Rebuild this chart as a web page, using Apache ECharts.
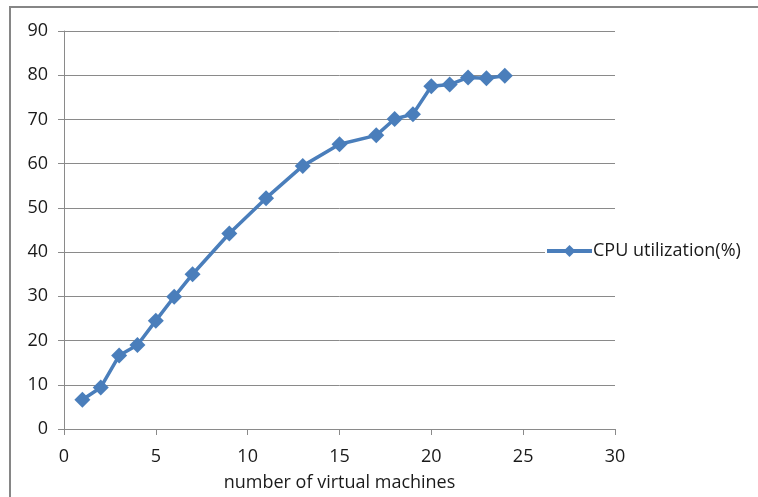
<!DOCTYPE html>
<html>
<head>
<meta charset="utf-8">
<style>
  html, body { margin: 0; padding: 0; background: #ffffff; }
  #chart { width: 758px; height: 497px; }
</style>
<script src="https://cdn.jsdelivr.net/npm/echarts@6/dist/echarts.min.js"></script>
</head>
<body>
<div id="chart"></div>
<script>
// Number of virtual machines (x) and measured CPU utilization (y)
const vmCounts = [1, 2, 3, 4, 5, 6, 7, 9, 11, 13, 15, 17, 18, 19, 20, 21, 22, 23, 24];
const cpuUtil = [6.6, 9.4, 16.6, 19.0, 24.5, 29.9, 35.0, 44.2, 52.2, 59.5, 64.4, 66.4, 70.1, 71.2, 77.5, 77.9, 79.5, 79.3, 79.9];
const seriesName = 'CPU utilization(%)';
const xAxisTitle = 'number of virtual machines';

const FONT = '"Open Sans", "Noto Sans", sans-serif';
const FONT_SIZE = 18;
const TEXT = '#1a1a1a';
const AXIS_GRAY = '#8a8a8a';
const BLUE = '#4a7ebb';

const chart = echarts.init(document.getElementById('chart'), null, { renderer: 'canvas' });

chart.setOption({
  animation: false,
  backgroundColor: '#ffffff',
  textStyle: { fontFamily: FONT, color: TEXT },
  grid: { left: 64, right: 143, top: 31, bottom: 67, containLabel: false },
  xAxis: {
    type: 'value',
    min: 0, max: 30, interval: 5,
    name: xAxisTitle,
    nameLocation: 'middle',
    nameGap: 45,
    nameTextStyle: { fontFamily: FONT, fontSize: FONT_SIZE, color: TEXT },
    axisLine: { show: true, onZero: false, lineStyle: { color: AXIS_GRAY, width: 1 } },
    axisTick: { show: true, inside: false, length: 6, lineStyle: { color: AXIS_GRAY } },
    axisLabel: { margin: 19, fontFamily: FONT, fontSize: FONT_SIZE, color: TEXT },
    splitLine: { show: false }
  },
  yAxis: {
    type: 'value',
    min: 0, max: 90, interval: 10,
    axisLine: { show: true, lineStyle: { color: AXIS_GRAY, width: 1 } },
    axisTick: { show: true, inside: false, length: 6, lineStyle: { color: AXIS_GRAY } },
    axisLabel: { margin: 16, fontFamily: FONT, fontSize: FONT_SIZE, color: TEXT },
    splitLine: { show: true, lineStyle: { color: AXIS_GRAY, width: 1 } }
  },
  legend: {
    show: true,
    orient: 'vertical',
    left: 545,
    top: 242,
    padding: 0,
    itemWidth: 45,
    itemHeight: 15,
    itemGap: 0,
    backgroundColor: '#ffffff',
    lineStyle: { width: 4 },
    textStyle: { fontFamily: FONT, fontSize: FONT_SIZE, color: TEXT, padding: [0, 0, 0, -4] },
    data: [{ name: seriesName }]
  },
  graphic: [
    { type: 'line', silent: true, z: 100,
      shape: { x1: 10, y1: 7, x2: 10, y2: 497 },
      style: { stroke: '#868686', lineWidth: 2 } },
    { type: 'line', silent: true, z: 100,
      shape: { x1: 9, y1: 7, x2: 758, y2: 7 },
      style: { stroke: '#868686', lineWidth: 2 } }
  ],
  series: [{
    name: seriesName,
    type: 'line',
    data: vmCounts.map((x, i) => [x, cpuUtil[i]]),
    symbol: 'diamond',
    symbolSize: 16,
    showAllSymbol: true,
    lineStyle: { color: BLUE, width: 3.5 },
    itemStyle: { color: BLUE, borderColor: BLUE, borderWidth: 0 }
  }]
});
</script>
</body>
</html>
